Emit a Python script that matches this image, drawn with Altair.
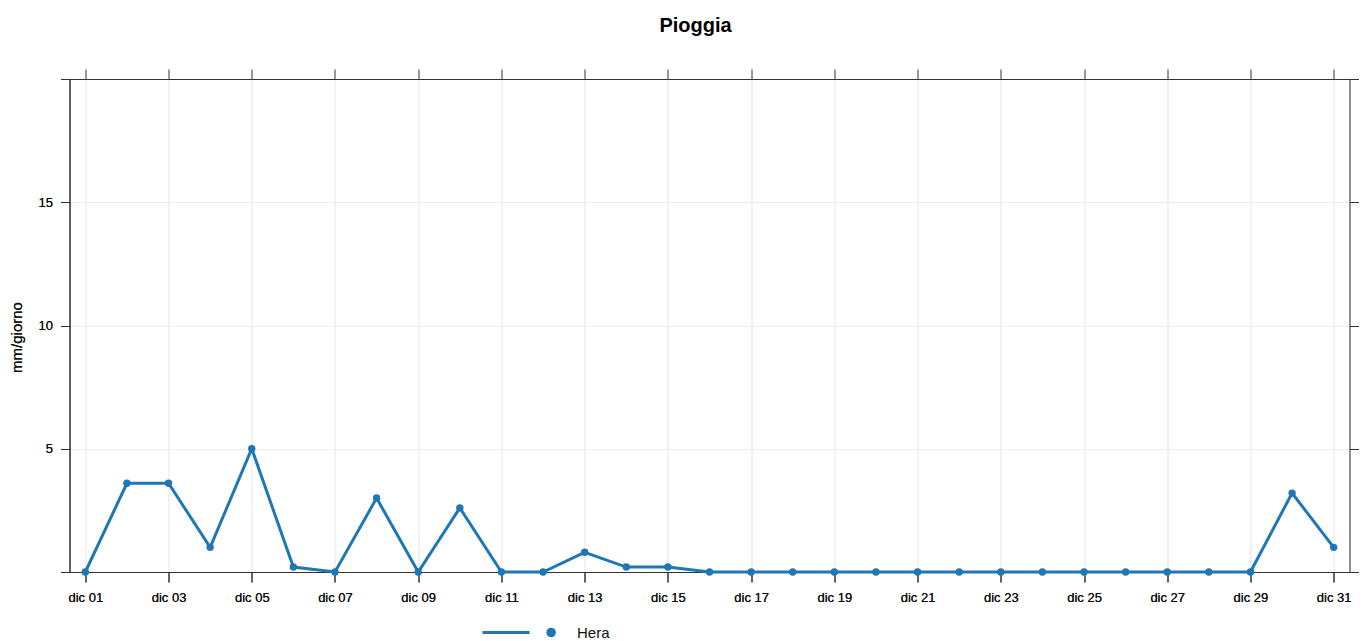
import altair as alt
import pandas as pd

days = list(range(1, 32))
rain = [0, 3.6, 3.6, 1.0, 5.0, 0.2, 0, 3.0, 0, 2.6, 0, 0, 0.8, 0.2, 0.2,
        0, 0, 0, 0, 0, 0, 0, 0, 0, 0, 0, 0, 0, 0, 3.2, 1.0]
station = ["Hera"] * 31
x_ticks = [1, 3, 5, 7, 9, 11, 13, 15, 17, 19, 21, 23, 25, 27, 29, 31]
y_ticks = [0, 5, 10, 15, 20]

df = pd.DataFrame({"day": days, "rain": rain, "station": station})

FONT = "Liberation Sans"
BLUE = "#1f77b4"
FRAME = "#333333"

xscale = alt.Scale(domain=[0.62, 31.38], nice=False, zero=False)
yscale = alt.Scale(domain=[0, 20], nice=False)

color = alt.Color(
    "station:N",
    scale=alt.Scale(domain=["Hera"], range=[BLUE]),
    legend=alt.Legend(
        title=None,
        orient="none",
        legendX=411.5,
        legendY=515.5,
        padding=0,
        symbolType="M-1,0L0.29,0M0.97,0A0.09,0.09,0,1,1,0.79,0A0.09,0.09,0,1,1,0.97,0Z",
        symbolSize=5329,
        symbolStrokeWidth=3,
        symbolFillColor=BLUE,
        symbolStrokeColor=BLUE,
        labelFont=FONT,
        labelFontSize=15,
        labelColor="#111111",
        labelOffset=20,
    ),
)

common = dict(
    domain=True,
    domainColor=FRAME,
    domainWidth=1,
    tickColor=FRAME,
    labelFont=FONT,
    labelFontSize=13,
    labelColor="#111111",
)

xaxis = alt.Axis(
    values=x_ticks,
    labelExpr="'dic ' + (datum.value < 10 ? '0' : '') + datum.value",
    title=None,
    tickSize=10,
    labelPadding=9,
    grid=True,
    gridColor="#ededed",
    labelFlush=False,
    **common,
)
yaxis = alt.Axis(
    values=y_ticks,
    labelExpr="(datum.value == 0 || datum.value == 20) ? '' : datum.label",
    title="mm/giorno",
    titleFont=FONT,
    titleFontSize=15,
    titleFontWeight="normal",
    titleColor="#111111",
    titleAngle=-90,
    titleAlign="center",
    titleBaseline="middle",
    titleX=-53,
    titleY=258,
    tickSize=9,
    labelPadding=8,
    grid=True,
    gridColor="#ededed",
    **common,
)

base = alt.Chart(df).encode(
    x=alt.X("day:Q", scale=xscale, axis=xaxis),
    y=alt.Y("rain:Q", scale=yscale, axis=yaxis),
    color=color,
)

line = base.mark_line(strokeWidth=3)
pts = base.mark_circle(size=55, opacity=1)

mirror = alt.Chart(df).mark_line(opacity=0).encode(
    x=alt.X("day:Q", scale=xscale,
            axis=alt.Axis(orient="top", values=x_ticks, labels=False, title=None,
                          grid=False, tickSize=10, domain=True, domainColor=FRAME,
                          tickColor=FRAME)),
    y=alt.Y("rain:Q", scale=yscale,
            axis=alt.Axis(orient="right", values=y_ticks, labels=False, title=None,
                          grid=False, tickSize=9, domain=True, domainColor=FRAME,
                          tickColor=FRAME)),
)

chart = (
    alt.layer(mirror, line, pts)
    .resolve_axis(x="independent", y="independent")
    .properties(
        width=1280,
        height=493,
        autosize=alt.AutoSizeParams(type="none"),
        padding={"left": 61.5, "top": 71, "right": 10, "bottom": 68},
        title=alt.TitleParams(
            "Pioggia",
            font=FONT,
            fontSize=20,
            fontWeight="bold",
            color="#000000",
            anchor="middle",
            dx=-14,
            offset=17,
            baseline="alphabetic",
        ),
    )
    .configure_view(stroke=FRAME, strokeWidth=1)
    .configure(background="white")
)

chart.save("out.html", embed_options={"renderer": "svg", "actions": False})
